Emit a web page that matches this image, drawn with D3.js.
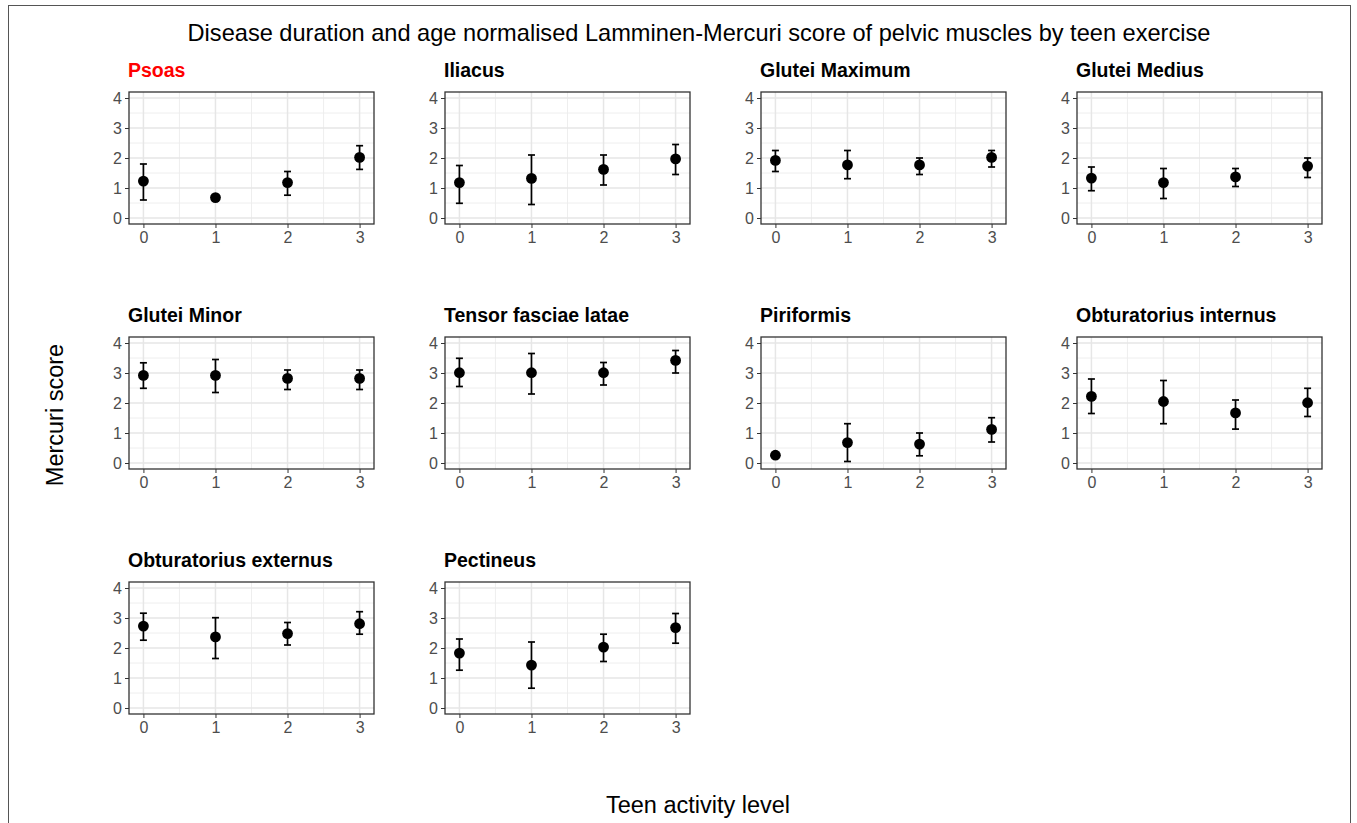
<!DOCTYPE html>
<html lang="en">
<head>
  <meta charset="UTF-8">
  <title>Lamminen-Mercuri score of pelvic muscles by teen exercise</title>
  <script src="https://d3js.org/d3.v7.min.js"></script>
  <style>
    body { margin: 0; background: #fff; font-family: "Liberation Sans", Arial, sans-serif; }
    .grid-major { stroke: #e6e6e6; stroke-width: 1.5; }
    .grid-minor { stroke: #ececec; stroke-width: 0.9; }
    .tick text { fill: #4d4d4d; font-size: 16px; font-family: "Liberation Sans", Arial, sans-serif; }
    .tick line { stroke: #333; }
    .domain { display: none; }
  </style>
</head>
<body>
  <div id="chart"></div>

  <script>
    // data
    const muscles = ["Psoas", "Iliacus", "Glutei Maximum", "Glutei Medius",
                     "Glutei Minor", "Tensor fasciae latae", "Piriformis", "Obturatorius internus",
                     "Obturatorius externus", "Pectineus"];
    const levels = [0, 1, 2, 3];
    const yTicks = [0, 1, 2, 3, 4];

    const meanScore = [
      [1.23, 0.68, 1.18, 2.02],
      [1.18, 1.32, 1.62, 1.97],
      [1.92, 1.77, 1.77, 2.02],
      [1.33, 1.18, 1.37, 1.73],
      [2.92, 2.92, 2.82, 2.82],
      [3.01, 3.01, 3.01, 3.42],
      [0.26, 0.68, 0.63, 1.12],
      [2.22, 2.05, 1.67, 2.01],
      [2.73, 2.37, 2.48, 2.81],
      [1.83, 1.43, 2.03, 2.68]
    ];
    const lowerCI = [
      [0.60, 0.63, 0.76, 1.62],
      [0.49, 0.45, 1.10, 1.45],
      [1.55, 1.31, 1.45, 1.70],
      [0.91, 0.65, 1.05, 1.35],
      [2.49, 2.35, 2.45, 2.45],
      [2.55, 2.30, 2.60, 3.00],
      [0.22, 0.05, 0.24, 0.70],
      [1.65, 1.31, 1.13, 1.55],
      [2.26, 1.65, 2.10, 2.46],
      [1.26, 0.66, 1.55, 2.16]
    ];
    const upperCI = [
      [1.80, 0.73, 1.55, 2.41],
      [1.75, 2.10, 2.10, 2.45],
      [2.25, 2.25, 2.00, 2.25],
      [1.70, 1.65, 1.65, 2.00],
      [3.34, 3.45, 3.10, 3.10],
      [3.49, 3.65, 3.35, 3.75],
      [0.30, 1.31, 1.00, 1.51],
      [2.80, 2.75, 2.10, 2.49],
      [3.16, 3.01, 2.85, 3.21],
      [2.30, 2.20, 2.46, 3.15]
    ];
    const highlighted = "Psoas";

    const W = 1357, H = 823;
    const nCols = 4;
    const panelW = 245, panelH = 132;
    const left0 = 129, colStep = 316;
    const top0 = 92, rowStep = 245;

    const svg = d3.select("#chart").append("svg")
      .attr("width", W).attr("height", H);

    svg.append("rect").attr("width", W).attr("height", H).attr("fill", "#fff");
    // outer frame
    svg.append("rect")
      .attr("x", 8.5).attr("y", 5.5)
      .attr("width", 1342).attr("height", H + 10)
      .attr("fill", "none").attr("stroke", "#555").attr("stroke-width", 1);

    svg.append("text")
      .attr("x", 699).attr("y", 41)
      .attr("text-anchor", "middle")
      .style("font-size", "23.6px")
      .attr("fill", "#000")
      .text("Disease duration and age normalised Lamminen-Mercuri score of pelvic muscles by teen exercise");

    svg.append("text")
      .attr("x", 698).attr("y", 813)
      .attr("text-anchor", "middle")
      .style("font-size", "23.5px")
      .text("Teen activity level");

    svg.append("text")
      .attr("transform", "translate(63,415) rotate(-90)")
      .attr("text-anchor", "middle")
      .style("font-size", "23.5px")
      .text("Mercuri score");

    const x = d3.scaleLinear().domain([-0.2, 3.2]).range([0, panelW]);
    const y = d3.scaleLinear().domain([-0.2, 4.2]).range([panelH, 0]);
    const xMinor = [0.5, 1.5, 2.5];
    const yMinor = [0.5, 1.5, 2.5, 3.5];

    muscles.forEach((name, i) => {
      const col = i % nCols, row = Math.floor(i / nCols);
      const g = svg.append("g")
        .attr("transform", `translate(${left0 + col * colStep},${top0 + row * rowStep})`);

      g.append("text")
        .attr("x", -1).attr("y", -15)
        .style("font-size", "19.5px")
        .style("font-weight", "bold")
        .attr("fill", name === highlighted ? "#ff0000" : "#000")
        .text(name);

      // gridlines
      g.selectAll(".gy-minor").data(yMinor).enter().append("line")
        .attr("class", "grid-minor")
        .attr("x1", 0).attr("x2", panelW)
        .attr("y1", d => y(d)).attr("y2", d => y(d));
      g.selectAll(".gx-minor").data(xMinor).enter().append("line")
        .attr("class", "grid-minor")
        .attr("y1", 0).attr("y2", panelH)
        .attr("x1", d => x(d)).attr("x2", d => x(d));
      g.selectAll(".gy-major").data(yTicks).enter().append("line")
        .attr("class", "grid-major")
        .attr("x1", 0).attr("x2", panelW)
        .attr("y1", d => y(d)).attr("y2", d => y(d));
      g.selectAll(".gx-major").data(levels).enter().append("line")
        .attr("class", "grid-major")
        .attr("y1", 0).attr("y2", panelH)
        .attr("x1", d => x(d)).attr("x2", d => x(d));

      g.append("g")
        .attr("transform", `translate(0,${panelH})`)
        .call(d3.axisBottom(x).tickValues(levels).tickSize(4).tickPadding(4).tickFormat(d3.format("d")));
      g.append("g")
        .call(d3.axisLeft(y).tickValues(yTicks).tickSize(4).tickPadding(3).tickFormat(d3.format("d")));

      const pts = levels.map((lv, j) => ({
        lv, m: meanScore[i][j], lo: lowerCI[i][j], hi: upperCI[i][j]
      }));

      const eb = g.selectAll(".eb").data(pts).enter().append("g")
        .attr("stroke", "#000").attr("stroke-width", 1.7);
      eb.append("line")
        .attr("x1", d => x(d.lv)).attr("x2", d => x(d.lv))
        .attr("y1", d => y(d.lo)).attr("y2", d => y(d.hi));
      eb.append("line")
        .attr("x1", d => x(d.lv) - 3.5).attr("x2", d => x(d.lv) + 3.5)
        .attr("y1", d => y(d.lo)).attr("y2", d => y(d.lo));
      eb.append("line")
        .attr("x1", d => x(d.lv) - 3.5).attr("x2", d => x(d.lv) + 3.5)
        .attr("y1", d => y(d.hi)).attr("y2", d => y(d.hi));

      g.selectAll(".pt").data(pts).enter().append("circle")
        .attr("cx", d => x(d.lv)).attr("cy", d => y(d.m))
        .attr("r", 5.4).attr("fill", "#000");

      g.append("rect")
        .attr("width", panelW).attr("height", panelH)
        .attr("fill", "none").attr("stroke", "#333").attr("stroke-width", 1.3);
    });
  </script>
</body>
</html>
